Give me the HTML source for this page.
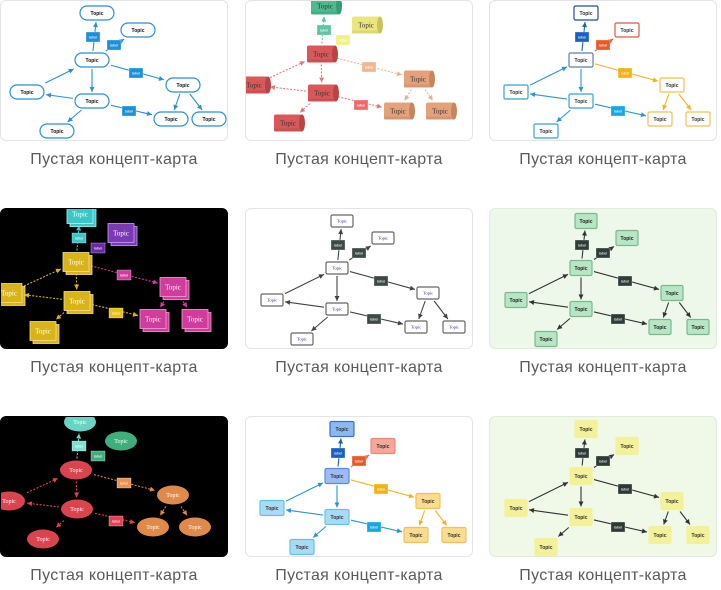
<!DOCTYPE html>
<html><head><meta charset="utf-8">
<style>
body{margin:0;width:721px;height:590px;background:#fff;overflow:hidden;position:relative;font-family:"Liberation Sans",sans-serif}
.card{position:absolute;width:228px;height:141px;border-radius:6px;overflow:hidden;box-sizing:border-box}
.cap{position:absolute;width:228px;text-align:center;font-size:16px;color:#5a5a5a;letter-spacing:0.3px}
svg{position:absolute;left:0;top:0}
</style></head><body>
<div id="root"></div>
<script>
const L1={T0:[96,12],T1:[137,29],C:[91,59],R:[182,84],Lf:[26,91],M:[91,100],BR:[170,118],F:[208,118],BL:[56,130],l0:[92,36],l1:[113,44],l2:[135,72],l3:[128,110]};
const L2={T0:[79,5],T1:[120,24],C:[75,53],R:[172,78],Lf:[8,84],M:[76,92],BR:[152,110],F:[194,110],BL:[42,122],l0:[78,29],l1:[97,39],l2:[123,66],l3:[115,104]};
const grp={T0:'a',T1:'b',C:'c',M:'d',Lf:'d',BL:'d',R:'e',BR:'e',F:'e'};
const edges=[['C','T0','l0','a'],['C','T1','l1','b'],['C','R','l2','e'],['Lf','C',null,'d'],['C','M',null,'d'],['M','Lf',null,'d'],['M','BR','l3','d'],['R','BR',null,'e'],['R','F',null,'e'],['M','BL',null,'d']];
const cards=[
{x:0,y:0,L:L1,bg:'#fff',bd:'#e4e4e4',shape:'pill',w:34,h:14,
 fill:{a:'#fff',b:'#fff',c:'#fff',d:'#fff',e:'#fff'},stroke:{a:'#2a8fd6',b:'#2a8fd6',c:'#2a8fd6',d:'#2a8fd6',e:'#2a8fd6'},
 ec:{a:'#2a8fd6',b:'#2a8fd6',c:'#2a8fd6',d:'#2a8fd6',e:'#2a8fd6'},lf:{a:'#1e90d8',b:'#1e90d8',c:'#1e90d8',d:'#1e90d8',e:'#1e90d8'},tc:'#111',font:'Liberation Sans',fs:5},
{x:245,y:0,L:L2,bg:'#fff',bd:'#e4e4e4',shape:'cyl',w:28,h:17,dash:true,
 fill:{a:'#4dbb8f',b:'#ece67e',c:'#d9595b',d:'#d9595b',e:'#e3a27c'},stroke:{a:'#3a9a72',b:'#c8c25e',c:'#b84446',d:'#b84446',e:'#c5855e'},
 ec:{a:'#5cc6a0',b:'#e0dc70',c:'#e07a7a',d:'#e07a7a',e:'#e8b090'},lf:{a:'#5cc6a0',b:'#f2f08a',c:'#f0b890',d:'#f06a6a',e:'#f0b890'},tc:'#333',font:'Liberation Serif',fs:7},
{x:489,y:0,L:L1,bg:'#fff',bd:'#e4e4e4',shape:'rect',w:24,h:14,
 fill:{a:'#fff',b:'#fff',c:'#fff',d:'#fff',e:'#fff'},stroke:{a:'#1d4e9e',b:'#e0593a',c:'#5a7fb8',d:'#3a9fd6',e:'#f0c050'},
 ec:{a:'#1b5fc1',b:'#e85a2a',c:'#f3b21a',d:'#2a95d6',e:'#f3b21a'},lf:{a:'#1b5fc1',b:'#e85a2a',c:'#f3b21a',d:'#14a8e6',e:'#f3b21a'},tc:'#333',font:'Liberation Sans',fs:5},
{x:0,y:208,L:L2,bg:'#000',bd:'#000',shape:'stack',w:26,h:19,dash:true,
 fill:{a:'#3cc6c6',b:'#7b3ab5',c:'#d8b41a',d:'#d8b41a',e:'#d03c9c'},stroke:{a:'#9ff',b:'#c9a0f0',c:'#f5e08a',d:'#f5e08a',e:'#f0a0d8'},
 ec:{a:'#3cc6c6',b:'#7b3ab5',c:'#d03c9c',d:'#d8b41a',e:'#d03c9c'},lf:{a:'#3cc6c6',b:'#6a2aa5',c:'#d03c9c',d:'#e8c010',e:'#d03c9c'},tc:'#fff',font:'Liberation Serif',fs:7},
{x:245,y:208,L:L1,bg:'#fff',bd:'#e4e4e4',shape:'rect',w:22,h:12,
 fill:{a:'#fff',b:'#fff',c:'#fff',d:'#fff',e:'#fff'},stroke:{a:'#666',b:'#666',c:'#666',d:'#666',e:'#666'},
 ec:{a:'#444',b:'#444',c:'#444',d:'#444',e:'#444'},lf:{a:'#3d4a48',b:'#3d4a48',c:'#3d4a48',d:'#3d4a48',e:'#3d4a48'},tc:'#223080',font:'Liberation Serif',fs:4.5},
{x:489,y:208,L:L1,bg:'#eef8ea',bd:'#e0ecdc',shape:'rect',w:22,h:15,
 fill:{a:'#b8e6c4',b:'#b8e6c4',c:'#b8e6c4',d:'#b8e6c4',e:'#b8e6c4'},stroke:{a:'#7ab88e',b:'#7ab88e',c:'#7ab88e',d:'#7ab88e',e:'#7ab88e'},
 ec:{a:'#333',b:'#333',c:'#333',d:'#333',e:'#333'},lf:{a:'#2f3d38',b:'#2f3d38',c:'#2f3d38',d:'#2f3d38',e:'#2f3d38'},tc:'#222',font:'Liberation Sans',fs:5},
{x:0,y:416,L:L2,bg:'#000',bd:'#000',shape:'ell',w:32,h:19,dash:true,
 fill:{a:'#69d4c4',b:'#3fae7d',c:'#d9444f',d:'#d9444f',e:'#e08a4a'},stroke:{a:'#69d4c4',b:'#3fae7d',c:'#d9444f',d:'#d9444f',e:'#e08a4a'},
 ec:{a:'#69d4c4',b:'#3fae7d',c:'#e07a5a',d:'#d9444f',e:'#e08a4a'},lf:{a:'#7ae0d0',b:'#3fae7d',c:'#f09050',d:'#e84050',e:'#e08a4a'},tc:'#fff',font:'Liberation Serif',fs:6},
{x:245,y:416,L:L1,bg:'#fff',bd:'#e4e4e4',shape:'rect',w:24,h:15,
 fill:{a:'#8fb8f0',b:'#f4a998',c:'#9dbcf5',d:'#a8dcf5',e:'#fcdc8e'},stroke:{a:'#3a6fd0',b:'#e88a78',c:'#5a8ae0',d:'#6ac0ea',e:'#f0c060'},
 ec:{a:'#1b5fc1',b:'#e85a2a',c:'#f3b21a',d:'#2a95d6',e:'#f3b21a'},lf:{a:'#1b5fc1',b:'#e85a2a',c:'#f3b21a',d:'#14a8e6',e:'#f3b21a'},tc:'#333',font:'Liberation Sans',fs:5},
{x:489,y:416,L:L1,bg:'#f0f8e8',bd:'#e0ecdc',shape:'rect',w:22,h:17,
 fill:{a:'#f3f199',b:'#f3f199',c:'#f3f199',d:'#f3f199',e:'#f3f199'},stroke:{a:'#f3f199',b:'#f3f199',c:'#f3f199',d:'#f3f199',e:'#f3f199'},
 ec:{a:'#333',b:'#333',c:'#333',d:'#333',e:'#333'},lf:{a:'#2d3a35',b:'#2d3a35',c:'#2d3a35',d:'#2d3a35',e:'#2d3a35'},tc:'#333',font:'Liberation Sans',fs:5}
];
let html='';
function clip(p,q,w,h){const dx=q[0]-p[0],dy=q[1]-p[1];const t=Math.min(Math.abs((w/2+2)/(dx||1e-6)),Math.abs((h/2+2)/(dy||1e-6)),1);return [p[0]+dx*t,p[1]+dy*t];}
cards.forEach(c=>{
 let s=`<svg width="228" height="141">`;
 const L=c.L;
 edges.forEach(([f,t,lb,k])=>{
  const a=L[f],b=L[t];const col=c.ec[k];
  const st=clip(a,b,c.w,c.h),en=clip(b,a,c.w,c.h);
  s+=`<line x1="${st[0]}" y1="${st[1]}" x2="${en[0]}" y2="${en[1]}" stroke="${col}" stroke-width="1.1" ${c.dash?'stroke-dasharray="2,1.5"':''}/>`;
  const ang=Math.atan2(en[1]-st[1],en[0]-st[0]);const al=5,aw=2.5;
  const p1=[en[0]-al*Math.cos(ang)+aw*Math.sin(ang),en[1]-al*Math.sin(ang)-aw*Math.cos(ang)];
  const p2=[en[0]-al*Math.cos(ang)-aw*Math.sin(ang),en[1]-al*Math.sin(ang)+aw*Math.cos(ang)];
  s+=`<polygon points="${en[0]},${en[1]} ${p1[0]},${p1[1]} ${p2[0]},${p2[1]}" fill="${col}"/>`;
 });
 edges.forEach(([f,t,lb])=>{ if(!lb)return; const p=L[lb];
  const key=lb==='l0'?'a':lb==='l1'?'b':lb==='l2'?'c':'d';
  s+=`<rect x="${p[0]-7}" y="${p[1]-5}" width="14" height="10" fill="${c.lf[key]}" stroke="rgba(255,255,255,.6)" stroke-width=".5"/><text x="${p[0]}" y="${p[1]+1.5}" font-size="4" fill="#fff" text-anchor="middle" font-family="Liberation Sans">label</text>`;
 });
 ['T0','T1','C','R','Lf','M','BR','F','BL'].forEach(n=>{
  const p=L[n],g=grp[n],w=c.w,h=c.h,x=p[0]-w/2,y=p[1]-h/2,fl=c.fill[g],sk=c.stroke[g];
  if(c.shape==='pill')s+=`<rect x="${x}" y="${y}" width="${w}" height="${h}" rx="7" fill="${fl}" stroke="${sk}" stroke-width="1.2"/>`;
  else if(c.shape==='rect')s+=`<rect x="${x}" y="${y}" width="${w}" height="${h}" rx="1.5" fill="${fl}" stroke="${sk}" stroke-width="1.2"/>`;
  else if(c.shape==='ell')s+=`<ellipse cx="${p[0]}" cy="${p[1]}" rx="${w/2}" ry="${h/2}" fill="${fl}"/>`;
  else if(c.shape==='cyl')s+=`<rect x="${x}" y="${y}" width="${w}" height="${h}" rx="2" fill="${fl}"/><ellipse cx="${x+w}" cy="${p[1]}" rx="3" ry="${h/2}" fill="${sk}"/><rect x="${x}" y="${y+h-3}" width="${w}" height="3" fill="${sk}" opacity=".4"/>`;
  else if(c.shape==='stack')s+=`<rect x="${x+3}" y="${y+3}" width="${w}" height="${h}" fill="${fl}" stroke="${sk}" stroke-width=".8"/><rect x="${x}" y="${y}" width="${w}" height="${h}" fill="${fl}" stroke="${sk}" stroke-width=".8"/>`;
  s+=`<text x="${p[0]}" y="${p[1]+c.fs*0.35}" font-size="${c.fs}" font-weight="${c.font==='Liberation Sans'?'bold':'normal'}" fill="${c.tc}" text-anchor="middle" font-family="${c.font}">Topic</text>`;
 });
 s+='</svg>';
 html+=`<div class="card" style="left:${c.x}px;top:${c.y}px;background:${c.bg};border:1px solid ${c.bd}">${s}</div>`;
 html+=`<div class="cap" style="left:${c.x}px;top:${c.y+151}px">Пустая концепт-карта</div>`;
});
document.getElementById('root').innerHTML=html;
</script>
</body></html>
